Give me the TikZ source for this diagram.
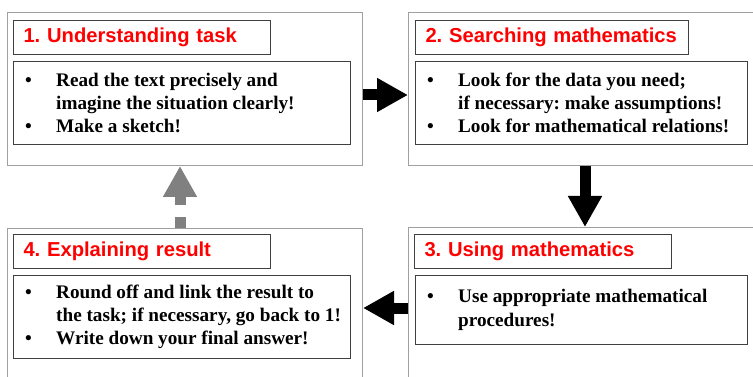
\documentclass[tikz,border=0pt]{standalone}
\usepackage{fontspec}
\setmainfont{Liberation Serif}
\newfontfamily\titlefont{Liberation Sans}
\usetikzlibrary{arrows.meta}
\definecolor{outergray}{HTML}{A0A0A0}
\definecolor{innergray}{HTML}{404040}
\definecolor{arrowgray}{HTML}{808080}
\newcommand{\bul}{\makebox[31pt][l]{•}}
\newcommand{\ind}{\hspace*{31pt}}
\frenchspacing
\begin{document}
\begin{tikzpicture}[x=1pt,y=-1pt,
  outerbox/.style={draw=outergray, line width=1pt, anchor=north west, inner sep=0pt},
  titlebox/.style={draw=innergray, line width=1pt, anchor=north west, inner xsep=10pt, inner ysep=0pt,
     minimum height=34pt, align=left, text=red, font=\titlefont\bfseries\fontsize{20.2}{22}\selectfont},
  contentbox/.style={draw=innergray, line width=1pt, anchor=north west, inner sep=0pt},
  contenttext/.style={anchor=west, xshift=12pt, inner sep=0pt, align=left,
     font=\bfseries\fontsize{19.2}{23.3}\selectfont},
  blockarrow/.style={line width=11pt, -{Triangle[length=31pt,width=32pt]}},
]
\useasboundingbox (0,0) rectangle (753,377);
\clip (0,0) rectangle (753,377);
% outer boxes
\node[outerbox, minimum width=355pt, minimum height=153pt] (b1) at (7,12) {};
\node[outerbox, minimum width=360pt, minimum height=153pt] (b2) at (408,12) {};
\node[outerbox, minimum width=360pt, minimum height=180pt] (b3) at (408,227) {};
\node[outerbox, minimum width=355pt, minimum height=180pt] (b4) at (7,228) {};
% titles
\node[titlebox, text width=237pt] (t1) at (13,20) {1. Understanding task};
\node[titlebox, text width=253pt] (t2) at (415,20) {2. Searching mathematics};
\node[titlebox, text width=237pt] (t3) at (414,234) {3. Using mathematics};
\node[titlebox, text width=237pt] (t4) at (13,234) {4. Explaining result};
% content boxes
\node[contentbox, minimum width=337pt, minimum height=83pt] (c1) at (13,61) {};
\node[contentbox, minimum width=332pt, minimum height=83pt] (c2) at (415,61) {};
\node[contentbox, minimum width=332pt, minimum height=69pt] (c3) at (415,275) {};
\node[contentbox, minimum width=337pt, minimum height=83pt] (c4) at (13,275) {};
% content texts
\node[contenttext] (x1) at (c1.west)
  {\bul Read the text precisely and\\ \ind imagine the situation clearly!\\ \bul Make a sketch!};
\node[contenttext] (x2) at (c2.west)
  {\bul Look for the data you need;\\ \ind if necessary: make assumptions!\\ \bul Look for mathematical relations!};
\node[contenttext] (x3) at (c3.west)
  {\bul Use appropriate mathematical\\ \ind procedures!};
\node[contenttext] (x4) at (c4.west)
  {\bul Round off and link the result to\\ \ind the task; if necessary, go back to 1!\\ \bul Write down your final answer!};
% connectors
\coordinate (y12) at (0,95);
\coordinate (x23) at (585,0);
\coordinate (y34) at (0,308);
\coordinate (x41) at (180,0);
\draw[blockarrow] (b1.east |- y12) -- (b2.west |- y12);
\draw[blockarrow] (b2.south -| x23) -- (b3.north -| x23);
\draw[blockarrow] (b3.west |- y34) -- (b4.east |- y34);
\draw[blockarrow, arrowgray, dash pattern=on 11pt off 12pt] (b4.north -| x41) -- (b1.south -| x41);
\end{tikzpicture}
\end{document}
